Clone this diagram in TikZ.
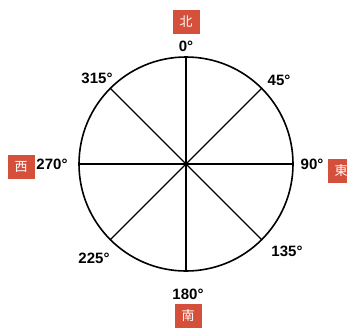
\documentclass[tikz,border=0pt]{standalone}
\usepackage{fontspec}
\setmainfont{Liberation Sans}
\newfontfamily\cjk{Noto Sans CJK SC}
\definecolor{dirred}{HTML}{D5503A}
\tikzset{
  deg/.style={font=\fontsize{15}{16}\selectfont\bfseries, inner sep=0pt},
  dirbox/.style={fill=dirred, text=white, font=\cjk\fontsize{13}{14}\selectfont, minimum width=27pt, minimum height=24pt, inner sep=0pt},
  ring/.style={line width=1.6pt},
  spoke/.style={line width=1.2pt}
}
\begin{document}
\begin{tikzpicture}[x=1pt,y=-1pt]
\useasboundingbox (0,0) rectangle (347,327);
\coordinate (c) at (186,164);
\node[circle, draw, ring, minimum size=214pt, inner sep=0pt] (circ) at (c) {};
\draw[spoke] (circ.north) -- (circ.south);
\draw[spoke] (circ.west) -- (circ.east);
\draw[spoke] (circ.north east) -- (circ.south west);
\draw[spoke] (circ.north west) -- (circ.south east);
\node[deg] (d0) at (186,46) {0°};
\node[deg] (d45) at (279,80) {45°};
\node[deg] (d90) at (312,164) {90°};
\node[deg] (d135) at (287,251) {135°};
\node[deg] (d180) at (188,294) {180°};
\node[deg] (d225) at (94,258) {225°};
\node[deg] (d270) at (52,164) {270°};
\node[deg] (d315) at (97,78) {315°};
\node[dirbox] (n) at (186,21.5) {北};
\node[dirbox] (w) at (21,167) {西};
\node[dirbox] (e) at (341,171) {東};
\node[dirbox] (s) at (188,316) {南};
\end{tikzpicture}
\end{document}
